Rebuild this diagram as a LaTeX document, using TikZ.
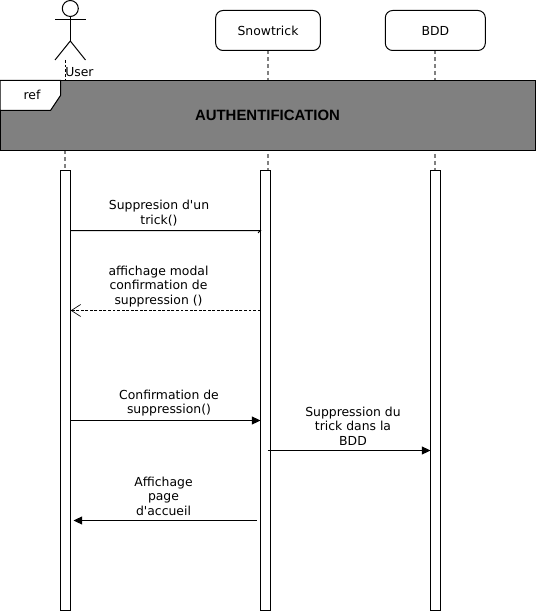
\documentclass[tikz,border=0pt]{standalone}
\usepackage{fontspec}
\setmainfont{DejaVu Sans}
\newfontfamily\plainfont{DejaVu Sans}
\usetikzlibrary{arrows.meta}
\definecolor{frameGray}{RGB}{128,128,128}
\tikzset{
  x=0.75pt,y=-0.75pt,
  actorbox/.style={draw,line width=0.75pt,rounded corners=5.5pt,fill=white,inner sep=0pt,font=\plainfont\fontsize{9.3}{11}\selectfont},
  bar/.style={draw,line width=0.75pt,fill=white},
  life/.style={draw=frameGray,line width=1pt,dash pattern=on 3pt off 2.2pt},
  msg/.style={line width=0.75pt,-{Triangle[length=6.5pt,width=6pt]}},
  msgopen/.style={line width=0.6pt,dash pattern=on 2.2pt off 1.2pt,-{Straight Barb[length=7pt,width=9pt,line width=0.5pt]}},
  lab/.style={align=center,inner sep=0pt,font=\plainfont\fontsize{9.3}{10.9}\selectfont},
  stick/.style={line width=0.75pt}
}
\begin{document}
\begin{tikzpicture}
\useasboundingbox (0,0) rectangle (536,613);
% lifelines
\coordinate (uA) at (65,150); \coordinate (uB) at (65,170);
\coordinate (sA) at (268,50); \coordinate (sB) at (268,170);
\coordinate (bA) at (435,50); \coordinate (bB) at (435,170);
\draw[life] (uA) -- (uB);
\draw[life] (sA) -- (sB);
\draw[life] (bA) -- (bB);
% header boxes
\node[actorbox,minimum width=78.5pt,minimum height=30pt] (snow) at (268,30.5) {Snowtrick};
\node[actorbox,minimum width=75pt,minimum height=30pt] (bdd) at (435.3,30.5) {BDD};
% actor
\node[draw,stick,circle,minimum size=12pt,inner sep=0pt] (head) at (70.3,8.5) {};
\coordinate (neck) at (70.3,41);
\coordinate (armL) at (55,20); \coordinate (armR) at (85.5,20);
\coordinate (legL) at (55,60); \coordinate (legR) at (85.5,60);
\draw[stick] (head.south) -- (neck);
\draw[stick] (armL) -- (armR);
\draw[stick] (legL) -- (neck) -- (legR);
\coordinate (dashT) at (65,60); \coordinate (dashB) at (65,80);
\draw[line width=0.6pt,dash pattern=on 2pt off 1.5pt] (dashT) -- (dashB);
\node[lab,anchor=west] (user) at (65,72.5) {User};
% ref frame
\path[draw,line width=0.75pt,fill=frameGray] (0,80.5) rectangle (535.5,150.5);
\node[inner sep=0pt] (auth) at (267.5,115.5) {\fontspec{Liberation Sans}\fontsize{11.2}{13}\selectfont\bfseries AUTHENTIFICATION};
\path[draw,line width=0.75pt,fill=white] (0,80.5) -- (60.5,80.5) -- (60.5,95.5) -- (50.5,110.5) -- (0,110.5) -- cycle;
\node[lab] (ref) at (32,95) {ref};
% activation bars
\node[bar,minimum width=7.6pt,minimum height=330pt,inner sep=0pt] (barU) at (65.5,390.3) {};
\node[bar,minimum width=7.6pt,minimum height=330pt,inner sep=0pt] (barS) at (265.7,390.3) {};
\node[bar,minimum width=7.6pt,minimum height=330pt,inner sep=0pt] (barB) at (435.7,390.3) {};
% messages
\coordinate (m1a) at (70.7,230.5); \coordinate (m1b) at (260.5,230.5); \coordinate (m1c) at (258,233);
\draw[line width=0.75pt] (m1a) -- (m1b) -- (m1c);
\node[lab] (l1) at (159,213) {Suppresion d'un\\trick()};
\coordinate (m2a) at (260.5,310.5); \coordinate (m2b) at (70.7,310.5);
\draw[msgopen] (m2a) -- (m2b);
\node[lab] (l2) at (158.5,286.5) {affichage modal\\confirmation de\\suppression ()};
\coordinate (m3a) at (70.7,420.5); \coordinate (m3b) at (260.5,420.5);
\draw[msg] (m3a) -- (m3b);
\node[lab] (l3) at (169,403) {Confirmation de\\suppression()};
\coordinate (m4a) at (267.5,450.5); \coordinate (m4b) at (430.5,450.5);
\draw[msg] (m4a) -- (m4b);
\node[lab] (l4) at (353,426) {Suppression du\\trick dans la\\BDD};
\coordinate (m5a) at (256.5,520.5); \coordinate (m5b) at (73.5,520.5);
\draw[msg] (m5a) -- (m5b);
\node[lab] (l5) at (163.5,496) {Affichage\\page\\d'accueil};
\end{tikzpicture}
\end{document}
